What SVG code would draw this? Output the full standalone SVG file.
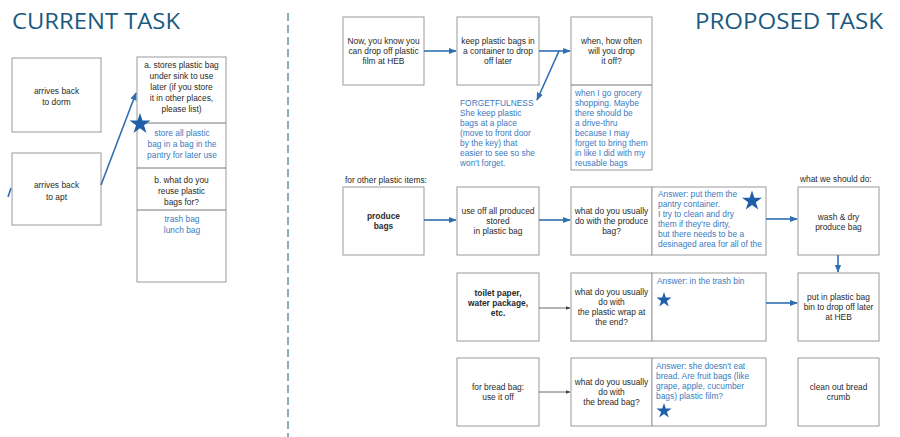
<svg xmlns="http://www.w3.org/2000/svg" width="900" height="437" viewBox="0 0 900 437">
<defs>
<style>
.box{fill:#fff;stroke:#9a9a9a;stroke-width:1}
.t{font-family:"Liberation Sans",Arial,sans-serif;font-size:8.4px;fill:#2a2a2a;text-anchor:middle}
.tl{font-family:"Liberation Sans",Arial,sans-serif;font-size:8.4px;fill:#2a2a2a}
.b{fill:#3a7bbf}
.bold{font-weight:bold}
.title{font-family:"Open Sans","Liberation Sans",sans-serif;font-size:21px;fill:#1b5a80}
.ab{stroke:#2f6fb0;stroke-width:1.6;fill:none}
.ak{stroke:#444;stroke-width:0.8;fill:none}
.star{fill:#1f5ea8}
</style>
<marker id="mb" viewBox="0 0 10 10" refX="9" refY="5" markerWidth="5" markerHeight="5" orient="auto" markerUnits="strokeWidth">
<path d="M0,1 L10,5 L0,9 Z" fill="#2f6fb0"/>
</marker>
<marker id="mk" viewBox="0 0 10 10" refX="9" refY="5" markerWidth="6" markerHeight="6" orient="auto" markerUnits="strokeWidth">
<path d="M0,1 L10,5 L0,9 Z" fill="#444"/>
</marker>
<path id="starp" d="M0,-10 L2.25,-3.09 L9.51,-3.09 L3.63,1.18 L5.88,8.09 L0,3.82 L-5.88,8.09 L-3.63,1.18 L-9.51,-3.09 L-2.25,-3.09 Z"/>
</defs>
<rect width="900" height="437" fill="#fff"/>

<text class="title" x="12" y="29" textLength="168" lengthAdjust="spacingAndGlyphs">CURRENT TASK</text>
<text class="title" x="695" y="29" textLength="188" lengthAdjust="spacingAndGlyphs">PROPOSED TASK</text>
<line x1="288" y1="13" x2="288" y2="437" stroke="#1b5a70" stroke-width="1" stroke-dasharray="8,4"/>

<!-- Current task -->
<g id="dorm">
<rect class="box" x="12" y="58" width="89" height="74"/>
<text class="t" x="56.5" y="94">arrives back</text>
<text class="t" x="56.5" y="105">to dorm</text>
</g>
<g id="apt">
<rect class="box" x="12" y="153" width="89" height="72"/>
<text class="t" x="56.5" y="188">arrives back</text>
<text class="t" x="56.5" y="200">to apt</text>
</g>
<g id="store">
<rect class="box" x="137" y="57" width="89" height="225"/>
<line x1="137" y1="123" x2="226" y2="123" stroke="#777" stroke-width="1"/>
<line x1="137" y1="168" x2="226" y2="168" stroke="#777" stroke-width="1"/>
<line x1="137" y1="210" x2="226" y2="210" stroke="#777" stroke-width="1"/>
<text class="t" x="181.5" y="68">a. stores plastic bag</text>
<text class="t" x="181.5" y="79">under sink to use</text>
<text class="t" x="181.5" y="90">later (if you store</text>
<text class="t" x="181.5" y="101">it in other places,</text>
<text class="t" x="181.5" y="112">please list)</text>
<text class="t b" x="182" y="136">store all plastic</text>
<text class="t b" x="182" y="147">bag in a bag in the</text>
<text class="t b" x="182" y="158">pantry for later use</text>
<text class="t" x="181.5" y="183">b. what do you</text>
<text class="t" x="181.5" y="194">reuse plastic</text>
<text class="t" x="181.5" y="205">bags for?</text>
<text class="t b" x="182" y="222">trash bag</text>
<text class="t b" x="182" y="233">lunch bag</text>
</g>

<!-- Proposed top row -->
<g id="p1">
<rect class="box" x="343" y="17" width="81" height="68"/>
<text class="t" x="383.5" y="44">Now, you know you</text>
<text class="t" x="383.5" y="54">can drop off plastic</text>
<text class="t" x="383.5" y="64">film at HEB</text>
</g>
<g id="p2">
<rect class="box" x="457" y="17" width="82" height="68"/>
<text class="t" x="498" y="44">keep plastic bags in</text>
<text class="t" x="498" y="54">a container to drop</text>
<text class="t" x="498" y="64">off later</text>
</g>
<g id="p3">
<rect class="box" x="571" y="17" width="81" height="153"/>
<line x1="571" y1="85" x2="652" y2="85" stroke="#777" stroke-width="1"/>
<text class="t" x="611.5" y="44">when, how often</text>
<text class="t" x="611.5" y="54">will you drop</text>
<text class="t" x="611.5" y="64">it off?</text>
<text class="tl b" x="575" y="96">when I go grocery</text>
<text class="tl b" x="575" y="106">shopping. Maybe</text>
<text class="tl b" x="575" y="116">there should be</text>
<text class="tl b" x="575" y="126">a drive-thru</text>
<text class="tl b" x="575" y="136">because I may</text>
<text class="tl b" x="575" y="146">forget to bring them</text>
<text class="tl b" x="575" y="156">in like I did with my</text>
<text class="tl b" x="575" y="166">reusable bags</text>
</g>
<g id="forget">
<text class="tl b" x="460" y="106">FORGETFULNESS</text>
<text class="tl b" x="460" y="116">She keep plastic</text>
<text class="tl b" x="460" y="126">bags at a place</text>
<text class="tl b" x="460" y="136">(move to front door</text>
<text class="tl b" x="460" y="146">by the key) that</text>
<text class="tl b" x="460" y="156">easier to see so she</text>
<text class="tl b" x="460" y="166">won't forget.</text>
</g>

<text class="tl" x="345" y="183">for other plastic items:</text>
<text class="tl" x="800" y="182">what we should do:</text>

<!-- produce row -->
<g id="produce">
<rect class="box" x="343" y="187" width="81" height="68"/>
<text class="t bold" x="383.5" y="219">produce</text>
<text class="t bold" x="383.5" y="229">bags</text>
</g>
<g id="useoff">
<rect class="box" x="457" y="187" width="82" height="68"/>
<text class="t" x="498" y="214">use off all produced</text>
<text class="t" x="498" y="224">stored</text>
<text class="t" x="498" y="234">in plastic bag</text>
</g>
<g id="q1">
<rect class="box" x="571" y="187" width="81" height="68"/>
<text class="t" x="611.5" y="214">what do you usually</text>
<text class="t" x="611.5" y="224">do with the produce</text>
<text class="t" x="611.5" y="234">bag?</text>
</g>
<g id="a1">
<rect class="box" x="652" y="187" width="114" height="68"/>
<text class="tl b" x="658" y="197">Answer: put them the</text>
<text class="tl b" x="658" y="207">pantry container.</text>
<text class="tl b" x="658" y="217">I try to clean and dry</text>
<text class="tl b" x="658" y="227">them if they're dirty,</text>
<text class="tl b" x="658" y="237">but there needs to be a</text>
<text class="tl b" x="658" y="247">desinaged area for all of the</text>
<use href="#starp" class="star" transform="translate(752,201) scale(1.05)"/>
</g>
<g id="wash">
<rect class="box" x="798" y="187" width="81" height="68"/>
<text class="t" x="838.5" y="220">wash &amp; dry</text>
<text class="t" x="838.5" y="230">produce bag</text>
</g>

<!-- toilet row -->
<g id="toilet">
<rect class="box" x="457" y="273" width="82" height="68"/>
<text class="t bold" x="498" y="296">toilet paper,</text>
<text class="t bold" x="498" y="306">water package,</text>
<text class="t bold" x="498" y="316">etc.</text>
</g>
<g id="q2">
<rect class="box" x="571" y="273" width="81" height="68"/>
<text class="t" x="611.5" y="295">what do you usually</text>
<text class="t" x="611.5" y="305">do with</text>
<text class="t" x="611.5" y="315">the plastic wrap at</text>
<text class="t" x="611.5" y="325">the end?</text>
</g>
<g id="a2">
<rect class="box" x="652" y="273" width="114" height="68"/>
<text class="tl b" x="657" y="284">Answer: in the trash bin</text>
<use href="#starp" class="star" transform="translate(664,300) scale(0.8)"/>
</g>
<g id="putin">
<rect class="box" x="798" y="273" width="81" height="68"/>
<text class="t" x="838.5" y="300">put in plastic bag</text>
<text class="t" x="838.5" y="310">bin to drop off later</text>
<text class="t" x="838.5" y="320">at HEB</text>
</g>

<!-- bread row -->
<g id="bread">
<rect class="box" x="457" y="358" width="82" height="68"/>
<text class="t" x="498" y="390">for bread bag:</text>
<text class="t" x="498" y="400">use it off</text>
</g>
<g id="q3">
<rect class="box" x="571" y="358" width="81" height="68"/>
<text class="t" x="611.5" y="385">what do you usually</text>
<text class="t" x="611.5" y="395">do with</text>
<text class="t" x="611.5" y="405">the bread bag?</text>
</g>
<g id="a3">
<rect class="box" x="652" y="358" width="114" height="68"/>
<text class="tl b" x="656" y="369">Answer: she doesn't eat</text>
<text class="tl b" x="656" y="379">bread. Are fruit bags (like</text>
<text class="tl b" x="656" y="389">grape, apple, cucumber</text>
<text class="tl b" x="656" y="399">bags) plastic film?</text>
<use href="#starp" class="star" transform="translate(664,411) scale(0.8)"/>
</g>
<g id="crumb">
<rect class="box" x="798" y="358" width="81" height="68"/>
<text class="t" x="838.5" y="390">clean out bread</text>
<text class="t" x="838.5" y="400">crumb</text>
</g>

<!-- connectors -->
<g id="connectors">
<line class="ab" x1="101" y1="185" x2="136" y2="93" marker-end="url(#mb)"/>
<line class="ab" x1="8" y1="197" x2="11" y2="188"/>
<line class="ab" x1="424" y1="51" x2="456" y2="51" marker-end="url(#mb)"/>
<line class="ab" x1="539" y1="51" x2="570" y2="51" marker-end="url(#mb)"/>
<line class="ab" x1="559" y1="51" x2="537" y2="100" marker-end="url(#mb)"/>
<line class="ab" x1="424" y1="220" x2="456" y2="220" marker-end="url(#mb)"/>
<line class="ab" x1="539" y1="220" x2="570" y2="220" marker-end="url(#mb)"/>
<line class="ab" x1="766" y1="219" x2="797" y2="219" marker-end="url(#mb)"/>
<line class="ab" x1="838" y1="255" x2="838" y2="272" marker-end="url(#mb)"/>
<line class="ab" x1="766" y1="303" x2="797" y2="303" marker-end="url(#mb)"/>
<line class="ak" x1="539" y1="308" x2="570" y2="308" marker-end="url(#mk)"/>
<line class="ak" x1="539" y1="392" x2="570" y2="392" marker-end="url(#mk)"/>
</g>
<use href="#starp" class="star" transform="translate(140,124) scale(1.1)"/>
</svg>
